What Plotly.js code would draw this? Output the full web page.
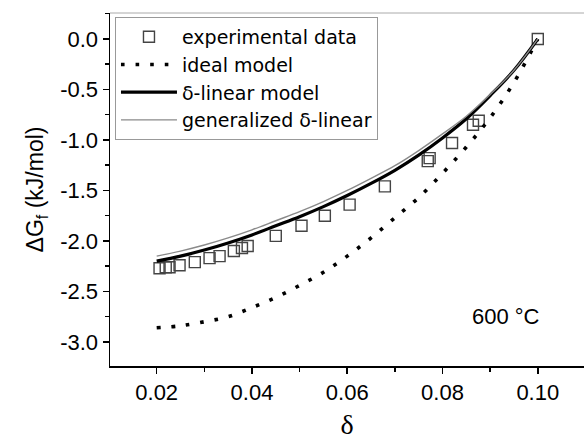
<!DOCTYPE html>
<html>
<head>
<meta charset="utf-8">
<script src="https://cdn.plot.ly/plotly-3.0.1.min.js"></script>
<style>html,body{margin:0;padding:0;background:#fff;}#chart{width:584px;height:440px;}</style>
</head>
<body>
<div id="chart"></div>
<script>
// Experimental data
const deltaExp = [0.0206, 0.0219, 0.0227, 0.0248, 0.0280, 0.0311, 0.0332, 0.0362, 0.0379, 0.0391, 0.0450, 0.0504, 0.0553, 0.0605, 0.0679, 0.0769, 0.0773, 0.0820, 0.0864, 0.0876, 0.1000];
const dGExp    = [-2.27, -2.26, -2.26, -2.24, -2.21, -2.17, -2.15, -2.10, -2.07, -2.05, -1.95, -1.85, -1.75, -1.64, -1.46, -1.21, -1.18, -1.03, -0.85, -0.81, 0.00];
// Model curves
const deltaModel = [0.020, 0.025, 0.030, 0.035, 0.040, 0.045, 0.050, 0.055, 0.060, 0.065, 0.070, 0.075, 0.080, 0.085, 0.090, 0.095, 0.100];
const dGIdeal       = [-2.86, -2.84, -2.80, -2.75, -2.66, -2.56, -2.44, -2.31, -2.15, -1.97, -1.77, -1.57, -1.33, -1.07, -0.78, -0.43, 0.00];
const dGLinear      = [-2.20, -2.15, -2.09, -2.02, -1.94, -1.85, -1.76, -1.66, -1.55, -1.43, -1.30, -1.15, -0.98, -0.79, -0.56, -0.31, 0.00];
const dGGeneralized = [-2.15, -2.10, -2.04, -1.97, -1.89, -1.80, -1.71, -1.61, -1.50, -1.38, -1.255, -1.105, -0.94, -0.765, -0.55, -0.31, 0.00];
const seriesNames = ["experimental data", "ideal model", "δ-linear model", "generalized δ-linear"];
// Ticks
const xTickVals = [0.02, 0.04, 0.06, 0.08, 0.10];
const xTickText = ["0.02", "0.04", "0.06", "0.08", "0.10"];
const yTickVals = [0.0, -0.5, -1.0, -1.5, -2.0, -2.5, -3.0];
const yTickText = ["0.0", "-0.5", "-1.0", "-1.5", "-2.0", "-2.5", "-3.0"];
const tempLabel = "600 °C";

const FONT = "Arial, 'Liberation Sans', sans-serif";
const WIDEFONT = "'DejaVu Sans', Arial, sans-serif";

const traces = [
  {x: deltaExp, y: dGExp, name: seriesNames[0], mode: "markers", type: "scatter",
   marker: {symbol: "square-open", size: 11, color: "#444", line: {width: 1.4, color: "#444"}}},
  {x: deltaModel, y: dGIdeal, name: seriesNames[1], mode: "lines", type: "scatter",
   line: {color: "#000", width: 3.6, dash: "3.6px,11px", shape: "spline"}},
  {x: deltaModel, y: dGLinear, name: seriesNames[2], mode: "lines", type: "scatter",
   line: {color: "#000", width: 3.2, shape: "spline"}},
  {x: deltaModel, y: dGGeneralized, name: seriesNames[3], mode: "lines", type: "scatter",
   line: {color: "#8a8a8a", width: 1.4, shape: "spline"}}
];

const layout = {
  width: 584, height: 440,
  margin: {l: 110, r: 0, t: 13, b: 74},
  paper_bgcolor: "#fff", plot_bgcolor: "#fff",
  font: {family: FONT, color: "#000", size: 21},
  showlegend: true,
  legend: {x: 0.0105, y: 0.989, xanchor: "left", yanchor: "top",
           bgcolor: "#fff", bordercolor: "#999", borderwidth: 1,
           font: {family: WIDEFONT, size: 19, color: "#000"}, itemwidth: 56,
           tracegroupgap: 0},
  xaxis: {range: [0.0102, 0.1097], showgrid: false, zeroline: false,
          showline: true, linecolor: "#000", linewidth: 1.5,
          ticks: "outside", ticklen: 6, tickwidth: 1.5, tickcolor: "#000",
          tickmode: "array", tickvals: xTickVals, ticktext: xTickText,
          tickfont: {family: FONT, size: 22},
          minor: {dtick: 0.01, tick0: 0, ticks: "outside", ticklen: 4, tickwidth: 1.5, tickcolor: "#000", showgrid: false},
          title: {text: "δ", font: {family: "'Liberation Serif', 'Times New Roman', serif", size: 28}, standoff: 16}},
  yaxis: {range: [-3.238, 0.257], showgrid: false, zeroline: false,
          showline: true, linecolor: "#000", linewidth: 1.5,
          ticks: "outside", ticklen: 6, tickwidth: 1.5, tickcolor: "#000",
          tickmode: "array", tickvals: yTickVals, ticktext: yTickText,
          tickfont: {family: FONT, size: 22},
          minor: {dtick: 0.25, tick0: 0, ticks: "outside", ticklen: 4, tickwidth: 1.5, tickcolor: "#000", showgrid: false},
          title: {text: "ΔG<sub>f</sub> (kJ/mol)", font: {family: FONT, size: 23}, standoff: 10}},
  shapes: [
    {type: "line", xref: "paper", yref: "paper", x0: 0, x1: 1, y0: 1, y1: 1, line: {color: "#aaa", width: 1}}
  ],
  annotations: [
    {x: 0.0933, y: -2.75, xref: "x", yref: "y", text: tempLabel, showarrow: false,
     font: {family: FONT, size: 22, color: "#000"}}
  ]
};

Plotly.newPlot("chart", traces, layout, {displayModeBar: false, staticPlot: true});
</script>
</body>
</html>
